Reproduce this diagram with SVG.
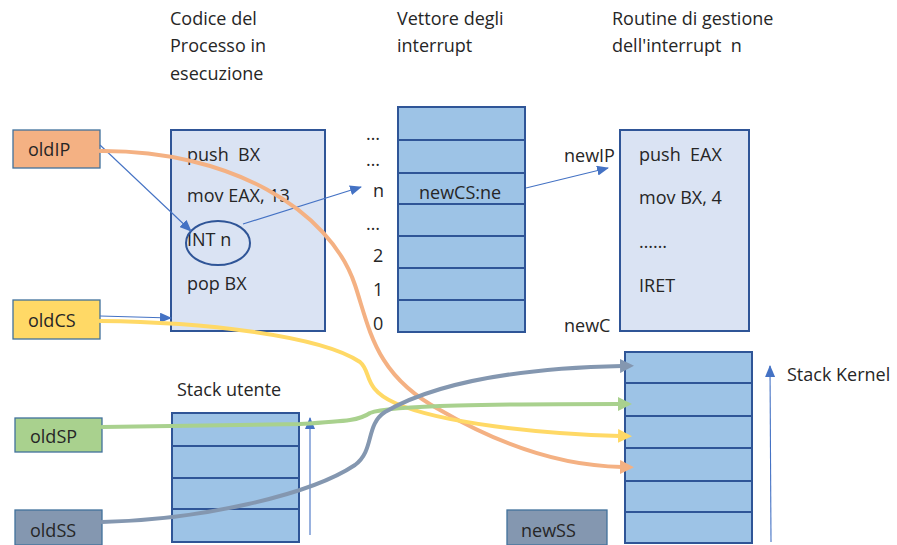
<svg xmlns="http://www.w3.org/2000/svg" width="897" height="545" viewBox="0 0 897 545">
<style>
text{font-family:"Open Sans","Liberation Sans",Arial,sans-serif;font-size:18px;fill:#262626}
.reg{stroke:#41719c;stroke-width:1.3}
.box{fill:#dae3f3;stroke:#2f5597;stroke-width:2}
.cell{fill:#9dc3e6;stroke:#2f5597;stroke-width:2}
.thin{fill:none;stroke:#4472c4;stroke-width:1.1}
.fat{fill:none;stroke-width:4;stroke-linecap:round}
</style>
<defs>
<marker id="ab" markerUnits="userSpaceOnUse" markerWidth="12" markerHeight="10" refX="11" refY="5" orient="auto"><path d="M0,0 L12,5 L0,10 Z" fill="#4472c4"/></marker>
<marker id="ao" markerUnits="userSpaceOnUse" markerWidth="14" markerHeight="14" refX="2" refY="7" orient="auto"><path d="M0,0 L14,7 L0,14 Z" fill="#f4b183"/></marker>
<marker id="ay" markerUnits="userSpaceOnUse" markerWidth="14" markerHeight="14" refX="2" refY="7" orient="auto"><path d="M0,0 L14,7 L0,14 Z" fill="#ffd966"/></marker>
<marker id="ag" markerUnits="userSpaceOnUse" markerWidth="14" markerHeight="14" refX="2" refY="7" orient="auto"><path d="M0,0 L14,7 L0,14 Z" fill="#a9d18e"/></marker>
<marker id="as" markerUnits="userSpaceOnUse" markerWidth="14" markerHeight="14" refX="2" refY="7" orient="auto"><path d="M0,0 L14,7 L0,14 Z" fill="#8497b0"/></marker>
</defs>

<g id="titles">
<text x="170" y="25">Codice del</text>
<text x="170" y="52">Processo in</text>
<text x="170" y="80">esecuzione</text>
<text x="397" y="25">Vettore degli</text>
<text x="397" y="52">interrupt</text>
<text x="612" y="25">Routine di gestione</text>
<text x="612" y="52" xml:space="preserve">dell'interrupt  n</text>
</g>

<g id="oldIP"><rect class="reg" x="13" y="130" width="87" height="38" fill="#f4b183"/><text x="28" y="156">oldIP</text></g>
<g id="oldCS"><rect class="reg" x="13" y="300" width="87" height="39" fill="#ffd966"/><text x="28" y="327">oldCS</text></g>
<g id="oldSP"><rect class="reg" x="15" y="418" width="87" height="34" fill="#a9d18e"/><text x="30" y="443">oldSP</text></g>
<g id="oldSS"><rect class="reg" x="15" y="510" width="87" height="35" fill="#8497b0"/><text x="30" y="537">oldSS</text></g>
<g id="newSS"><rect class="reg" x="507" y="510" width="100" height="35" fill="#8497b0"/><text x="521" y="537">newSS</text></g>

<g id="codice">
<rect class="box" x="171" y="130" width="154" height="201"/>
<text x="187" y="161" xml:space="preserve">push  BX</text>
<text x="187" y="202">mov EAX, 13</text>
<text x="187" y="246">INT n</text>
<text x="187" y="290">pop BX</text>
<ellipse cx="218" cy="243" rx="32" ry="22" fill="none" stroke="#2f5597" stroke-width="2"/>
</g>

<g id="vettore">
<rect class="cell" x="398" y="107" width="127" height="33"/>
<rect class="cell" x="398" y="140" width="127" height="33"/>
<rect class="cell" x="398" y="173" width="127" height="31"/>
<rect class="cell" x="398" y="204" width="127" height="32"/>
<rect class="cell" x="398" y="236" width="127" height="32"/>
<rect class="cell" x="398" y="268" width="127" height="32"/>
<rect class="cell" x="398" y="300" width="127" height="32"/>
<text x="419" y="199">newCS:ne</text>
<text x="366" y="140">…</text>
<text x="366" y="166">…</text>
<text x="373" y="197">n</text>
<text x="366" y="230">…</text>
<text x="373" y="262">2</text>
<text x="373" y="296">1</text>
<text x="373" y="330">0</text>
</g>

<g id="routine">
<rect class="box" x="620" y="130" width="129" height="201"/>
<text x="639" y="161" xml:space="preserve">push  EAX</text>
<text x="639" y="204">mov BX, 4</text>
<text x="639" y="248">……</text>
<text x="639" y="292">IRET</text>
<text x="564" y="162">newIP</text>
<text x="564" y="332">newC</text>
</g>

<g id="stackUtente">
<text x="177" y="396">Stack utente</text>
<rect class="cell" x="172" y="413" width="127" height="33"/>
<rect class="cell" x="172" y="446" width="127" height="32"/>
<rect class="cell" x="172" y="478" width="127" height="31"/>
<rect class="cell" x="172" y="509" width="127" height="33"/>
</g>

<g id="stackKernel">
<text x="787" y="381">Stack Kernel</text>
<rect class="cell" x="625" y="352" width="127" height="31"/>
<rect class="cell" x="625" y="383" width="127" height="33"/>
<rect class="cell" x="625" y="416" width="127" height="32"/>
<rect class="cell" x="625" y="448" width="127" height="33"/>
<rect class="cell" x="625" y="481" width="127" height="31"/>
<rect class="cell" x="625" y="512" width="127" height="31"/>
</g>

<g id="connectors">
<line class="thin" x1="100" y1="145" x2="191" y2="231" marker-end="url(#ab)"/>
<line class="thin" x1="243" y1="224" x2="361" y2="187" marker-end="url(#ab)"/>
<line class="thin" x1="100" y1="316" x2="171" y2="318" marker-end="url(#ab)"/>
<line class="thin" x1="526" y1="188" x2="608" y2="168" marker-end="url(#ab)"/>
<line class="thin" x1="310" y1="535" x2="310" y2="418" marker-end="url(#ab)"/>
<line class="thin" x1="771" y1="542" x2="770" y2="366" marker-end="url(#ab)"/>
<path class="fat" stroke="#f4b183" d="M100,151 C230,150 330,210 355,285 C370,330 375,375 440,410 C500,445 560,466 622,467" marker-end="url(#ao)"/>
<path class="fat" stroke="#ffd966" d="M100,321 C200,322 320,335 360,362 C372,372 362,388 395,403 C440,423 540,434 620,436" marker-end="url(#ay)"/>
<path class="fat" stroke="#a9d18e" d="M102,427 L300,424 C350,421 360,420 370,413 C390,405 500,404 620,404" marker-end="url(#ag)"/>
<path class="fat" stroke="#8497b0" d="M102,522 C200,520 310,495 355,465 C375,450 365,425 385,412 C440,380 530,368 622,366" marker-end="url(#as)"/>
</g>
</svg>
